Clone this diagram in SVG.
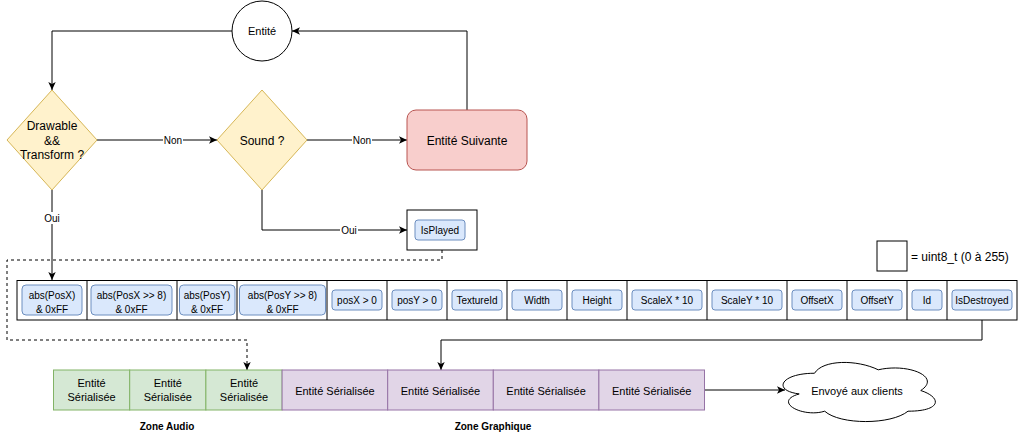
<svg xmlns="http://www.w3.org/2000/svg" width="1018" height="441" viewBox="0 0 1018 441">
<defs>
<marker id="arr" markerWidth="8" markerHeight="8" refX="8" refY="4" orient="auto" markerUnits="userSpaceOnUse">
<path d="M0,0.3 L8,4 L0,7.7 L2,4 Z" fill="#000"/>
</marker>
<style>
text{font-family:"Liberation Sans",Arial,sans-serif;fill:#000;text-anchor:middle}
.t12{font-size:12px}
.t11{font-size:11px}
.t10{font-size:10px}
.b{font-weight:bold;font-size:10px}
.dia{fill:#fff2cc;stroke:#d6b656;stroke-width:1}
.red{fill:#f8cecc;stroke:#b85450;stroke-width:1}
.blue{fill:#dae8fc;stroke:#6c8ebf;stroke-width:1}
.green{fill:#d5e8d4;stroke:#82b366;stroke-width:1}
.purple{fill:#e1d5e7;stroke:#9673a6;stroke-width:1}
.box{fill:#fff;stroke:#000;stroke-width:1}
.edge{fill:none;stroke:#000;stroke-width:1}
.dash{stroke-dasharray:3 3}
.lbl{fill:#fff;stroke:none}
</style>
</defs>
<rect x="0" y="0" width="1018" height="441" fill="#fff"/>

<g id="connectors">
<path class="edge" d="M232,31 H52 V90" marker-end="url(#arr)"/>
<path class="edge" d="M97,140 H217" marker-end="url(#arr)"/>
<path class="edge" d="M307,140 H407" marker-end="url(#arr)"/>
<path class="edge" d="M467,110 V31 H292" marker-end="url(#arr)"/>
<path class="edge" d="M262,190 V230 H407" marker-end="url(#arr)"/>
<path class="edge" d="M52,190 V280" marker-end="url(#arr)"/>
<path class="edge dash" d="M442,250 V260 H7 V340 H247 V370" marker-end="url(#arr)"/>
<path class="edge" d="M982,320 V340 H441 V370" marker-end="url(#arr)"/>
<path class="edge" d="M705,390 H785" marker-end="url(#arr)"/>
<rect class="lbl" x="163" y="134" width="20" height="12"/>
<text class="t10" x="173" y="143.5">Non</text>
<rect class="lbl" x="352" y="134" width="20" height="12"/>
<text class="t10" x="362" y="143.5">Non</text>
<rect class="lbl" x="43" y="212" width="18" height="12"/>
<text class="t10" x="52" y="221.5">Oui</text>
<rect class="lbl" x="340" y="224" width="18" height="12"/>
<text class="t10" x="349" y="233.5">Oui</text>
</g>

<g id="entite">
<circle class="box" cx="262" cy="31" r="30"/>
<text class="t11" x="262" y="35">Entité</text>
</g>

<g id="drawable">
<polygon class="dia" points="52,90 97,140 52,190 7,140"/>
<text class="t12" x="52" y="130">Drawable</text>
<text class="t12" x="52" y="144.5">&amp;&amp;</text>
<text class="t12" x="52" y="159">Transform ?</text>
</g>

<g id="sound">
<polygon class="dia" points="262,90 307,140 262,190 217,140"/>
<text class="t12" x="262" y="144.5">Sound ?</text>
</g>

<g id="suivante">
<rect class="red" x="407" y="110" width="120" height="60" rx="9"/>
<text class="t12" x="467" y="144.5">Entité Suivante</text>
</g>

<g id="isplayed">
<rect class="box" x="407" y="210" width="70" height="40"/>
<rect class="blue" x="415" y="220" width="50" height="20" rx="3"/>
<text class="t10" x="440" y="233.5">IsPlayed</text>
</g>

<g id="legend">
<rect class="box" x="877" y="241" width="30" height="30"/>
<text class="t12" x="911" y="260.5" style="text-anchor:start">= uint8_t (0 à 255)</text>
</g>

<g id="row">
<rect class="box" x="17" y="280.5" width="1000" height="39.5"/>
<path class="edge" d="M87,280.5 V320 M177,280.5 V320 M237,280.5 V320 M327,280.5 V320 M387,280.5 V320 M447,280.5 V320 M507,280.5 V320 M567,280.5 V320 M627,280.5 V320 M707,280.5 V320 M787,280.5 V320 M847,280.5 V320 M907,280.5 V320 M947,280.5 V320"/>
<g id="absPosX">
<rect class="blue" x="22" y="285" width="60" height="30" rx="4"/>
<text class="t10" x="52" y="298.5">abs(PosX)</text>
<text class="t10" x="52" y="312.5">&amp; 0xFF</text>
</g>
<g id="absPosX8">
<rect class="blue" x="91" y="285" width="81" height="30" rx="4"/>
<text class="t10" x="131.5" y="298.5">abs(PosX &gt;&gt; 8)</text>
<text class="t10" x="131.5" y="312.5">&amp; 0xFF</text>
</g>
<g id="absPosY">
<rect class="blue" x="179.5" y="285" width="55.5" height="30" rx="4"/>
<text class="t10" x="207" y="298.5">abs(PosY)</text>
<text class="t10" x="207" y="312.5">&amp; 0xFF</text>
</g>
<g id="absPosY8">
<rect class="blue" x="239.5" y="285" width="86" height="30" rx="4"/>
<text class="t10" x="282.5" y="298.5">abs(PosY &gt;&gt; 8)</text>
<text class="t10" x="282.5" y="312.5">&amp; 0xFF</text>
</g>
<g id="posX"><rect class="blue" x="332" y="290" width="50" height="20" rx="3"/><text class="t10" x="357" y="303.5">posX &gt; 0</text></g>
<g id="posY"><rect class="blue" x="392" y="290" width="50" height="20" rx="3"/><text class="t10" x="417" y="303.5">posY &gt; 0</text></g>
<g id="textureId"><rect class="blue" x="452" y="290" width="50" height="20" rx="3"/><text class="t10" x="477" y="303.5">TextureId</text></g>
<g id="width"><rect class="blue" x="512" y="290" width="50" height="20" rx="3"/><text class="t10" x="537" y="303.5">Width</text></g>
<g id="height"><rect class="blue" x="572" y="290" width="50" height="20" rx="3"/><text class="t10" x="597" y="303.5">Height</text></g>
<g id="scaleX"><rect class="blue" x="632" y="290" width="70" height="20" rx="3"/><text class="t10" x="667" y="303.5">ScaleX * 10</text></g>
<g id="scaleY"><rect class="blue" x="712" y="290" width="70" height="20" rx="3"/><text class="t10" x="747" y="303.5">ScaleY * 10</text></g>
<g id="offsetX"><rect class="blue" x="792" y="290" width="50" height="20" rx="3"/><text class="t10" x="817" y="303.5">OffsetX</text></g>
<g id="offsetY"><rect class="blue" x="852" y="290" width="50" height="20" rx="3"/><text class="t10" x="877" y="303.5">OffsetY</text></g>
<g id="id"><rect class="blue" x="912" y="290" width="30" height="20" rx="3"/><text class="t10" x="927" y="303.5">Id</text></g>
<g id="isDestroyed"><rect class="blue" x="952" y="290" width="60" height="20" rx="3"/><text class="t10" x="982" y="303.5">IsDestroyed</text></g>
</g>

<g id="zoneAudio">
<rect class="green" x="53.5" y="370" width="76.2" height="40"/>
<text class="t11" x="91.6" y="387.2">Entité</text>
<text class="t11" x="91.6" y="400.6">Sérialisée</text>
<rect class="green" x="129.7" y="370" width="76.2" height="40"/>
<text class="t11" x="167.8" y="387.2">Entité</text>
<text class="t11" x="167.8" y="400.6">Sérialisée</text>
<rect class="green" x="205.9" y="370" width="76.2" height="40"/>
<text class="t11" x="244" y="387.2">Entité</text>
<text class="t11" x="244" y="400.6">Sérialisée</text>
<text class="b" x="167" y="430.3">Zone Audio</text>
</g>

<g id="zoneGraphique">
<rect class="purple" x="282.1" y="370" width="105.6" height="40"/>
<text class="t11" x="334.9" y="394.5">Entité Sérialisée</text>
<rect class="purple" x="387.7" y="370" width="105.6" height="40"/>
<text class="t11" x="440.5" y="394.5">Entité Sérialisée</text>
<rect class="purple" x="493.3" y="370" width="105.6" height="40"/>
<text class="t11" x="546.1" y="394.5">Entité Sérialisée</text>
<rect class="purple" x="598.9" y="370" width="105.6" height="40"/>
<text class="t11" x="651.7" y="394.5">Entité Sérialisée</text>
<text class="b" x="493" y="430.3">Zone Graphique</text>
</g>

<g id="cloud">
<path class="box" d="M814.5,373.25 C780.5,373.25 772,390.5 799.2,393.95 C772,401.54 802.6,418.1 824.7,411.2 C840,425 891,425 908,411.2 C942,411.2 942,397.4 920.75,390.5 C942,376.7 908,362.9 878.25,369.8 C857,359.45 823,359.45 814.5,373.25 Z"/>
<text class="t11" x="857" y="395">Envoyé aux clients</text>
</g>
</svg>
